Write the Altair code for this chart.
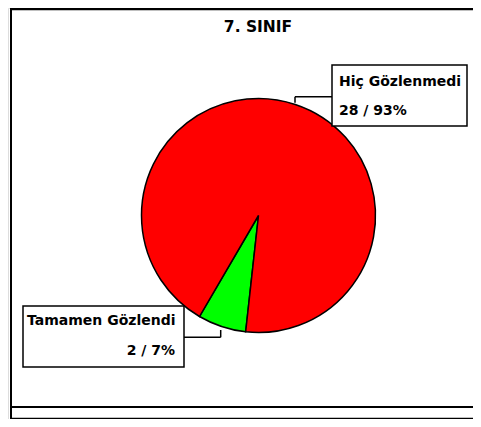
import math
import altair as alt
import pandas as pd

# ---- data ----
categories = ["Tamamen Gözlendi", "Hiç Gözlenmedi"]
counts = [2, 28]
percents = [7, 93]
colors = ["#00FF00", "#FF0000"]
title_text = "7. SINIF"

df = pd.DataFrame({
    "cat": categories,
    "count": counts,
    "pct": percents,
    "idx": list(range(len(categories))),
})
df["label"] = [f"{c} / {p}%" for c, p in zip(counts, percents)]

W, H = 465, 411
FONT = "DejaVu Sans"
start = math.radians(186.3)

pie = alt.Chart(df).mark_arc(outerRadius=117, stroke="black", strokeWidth=1.5).encode(
    theta=alt.Theta("count:Q", stack=True, scale=alt.Scale(range=[start, start + 2 * math.pi])),
    color=alt.Color("cat:N", scale=alt.Scale(domain=categories, range=colors), legend=None),
    order=alt.Order("idx:Q"),
    x=alt.value(250.5),
    y=alt.value(207.5),
)

base = alt.Chart(pd.DataFrame({"a": [0]}))


def rule(x, x2, y, y2, w=1.5, color="black"):
    return base.mark_rule(stroke=color, strokeWidth=w).encode(
        x=alt.value(x), x2=alt.value(x2), y=alt.value(y), y2=alt.value(y2))


def box(x, x2, y, y2):
    return base.mark_rect(fill="white", stroke="black", strokeWidth=1.5).encode(
        x=alt.value(x), x2=alt.value(x2), y=alt.value(y), y2=alt.value(y2))


def txt(data_row, field, x, y, align="left"):
    return alt.Chart(df[df["cat"] == data_row]).mark_text(
        font=FONT, fontSize=14, fontWeight="bold", align=align, baseline="alphabetic", color="black"
    ).encode(text=f"{field}:N", x=alt.value(x), y=alt.value(y))


# frame
frame = [
    rule(3, 3, 0, 411, 2),
    rule(3, W, 1, 1, 2.5),
    rule(3, W, 399, 399, 2),
    rule(3, W, 410.5, 410.5, 1.5),
]

title = base.mark_text(font=FONT, fontSize=15.5, fontWeight="bold", align="center",
                       baseline="alphabetic", color="black").encode(
    text=alt.value(title_text), x=alt.value(250), y=alt.value(23.7))

# label 1 (Hiç Gözlenmedi)
lab1 = [
    rule(287, 324, 88.7, 88.7, 1.5),
    rule(287, 287, 88.7, 94.7, 1.5),
    box(324, 459, 57, 118),
    txt("Hiç Gözlenmedi", "cat", 331, 77.7),
    txt("Hiç Gözlenmedi", "label", 331, 107),
]

# label 2 (Tamamen Gözlendi)
lab2 = [
    rule(176, 212.7, 329.3, 329.3, 1.5),
    rule(212.7, 212.7, 322, 329.3, 1.5),
    box(15, 176, 298, 359),
    txt("Tamamen Gözlendi", "cat", 19, 317),
    txt("Tamamen Gözlendi", "label", 167, 347, align="right"),
]

chart = alt.layer(pie, *frame, title, *lab1, *lab2).properties(
    width=W, height=H, padding=0, autosize=alt.AutoSizeParams(type="none")
).configure_view(stroke=None).configure(background="white")

chart.save("out.html", embed_options={"renderer": "svg", "actions": False})
